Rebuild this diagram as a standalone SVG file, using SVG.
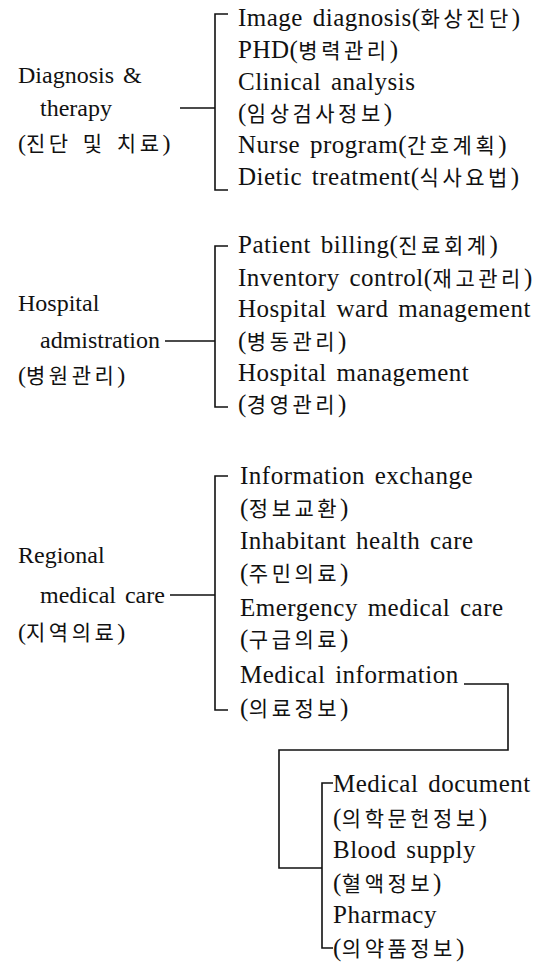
<svg xmlns="http://www.w3.org/2000/svg" width="551" height="965" viewBox="0 0 551 965">
<style>
text{font-family:"Liberation Serif","Noto Sans CJK KR",serif;font-size:25px;fill:#111;letter-spacing:0.5px;word-spacing:3px}
.l{font-size:24px;letter-spacing:0;word-spacing:3px}
.k{font-family:"Noto Sans CJK KR","Liberation Serif",sans-serif;font-size:21px;letter-spacing:3.5px}
.c{fill:none;stroke:#111;stroke-width:1.6}
</style>
<rect width="551" height="965" fill="#fff"/>
<g id="connectors">
<path class="c" d="M228,14 H215 V190 H228 M180,108 H215"/>
<path class="c" d="M228,246 H215 V407 H228 M165,341 H215"/>
<path class="c" d="M228,476 H215 V710 H228 M170,595 H215"/>
<path class="c" d="M464,684 H508 V750 H279 V868 H322"/>
<path class="c" d="M333,783 H322 V948 H333"/>
</g>
<g id="diagnosis"><text class="l" x="18" y="83">Diagnosis &amp;</text><text class="l" x="40" y="116">therapy</text><text class="l" x="18" y="151">(<tspan class="k">진단 및 치료</tspan>)</text></g>
<g id="image"><text x="238" y="26">Image diagnosis(<tspan class="k">화상진단</tspan>)</text></g>
<g id="phd"><text x="238" y="58">PHD(<tspan class="k">병력관리</tspan>)</text></g>
<g id="clinical"><text x="238" y="90">Clinical analysis</text><text x="238" y="121">(<tspan class="k">임상검사정보</tspan>)</text></g>
<g id="nurse"><text x="238" y="153">Nurse program(<tspan class="k">간호계획</tspan>)</text></g>
<g id="dietic"><text x="238" y="185">Dietic treatment(<tspan class="k">식사요법</tspan>)</text></g>
<g id="hospital"><text class="l" x="18" y="311">Hospital</text><text class="l" x="40" y="348">admistration</text><text class="l" x="18" y="383">(<tspan class="k">병원관리</tspan>)</text></g>
<g id="billing"><text x="238" y="253">Patient billing(<tspan class="k">진료회계</tspan>)</text></g>
<g id="inventory"><text x="238" y="286">Inventory control(<tspan class="k">재고관리</tspan>)</text></g>
<g id="ward"><text x="238" y="317">Hospital ward management</text><text x="238" y="349">(<tspan class="k">병동관리</tspan>)</text></g>
<g id="management"><text x="238" y="381">Hospital management</text><text x="238" y="412">(<tspan class="k">경영관리</tspan>)</text></g>
<g id="regional"><text class="l" x="18" y="563">Regional</text><text class="l" x="40" y="603">medical care</text><text class="l" x="18" y="640">(<tspan class="k">지역의료</tspan>)</text></g>
<g id="exchange"><text x="240" y="484">Information exchange</text><text x="240" y="516">(<tspan class="k">정보교환</tspan>)</text></g>
<g id="inhabitant"><text x="240" y="549">Inhabitant health care</text><text x="240" y="581">(<tspan class="k">주민의료</tspan>)</text></g>
<g id="emergency"><text x="240" y="616">Emergency medical care</text><text x="240" y="647">(<tspan class="k">구급의료</tspan>)</text></g>
<g id="medinfo"><text x="240" y="683">Medical information</text><text x="240" y="716">(<tspan class="k">의료정보</tspan>)</text></g>
<g id="document"><text x="333" y="792">Medical document</text><text x="333" y="826">(<tspan class="k">의학문헌정보</tspan>)</text></g>
<g id="blood"><text x="333" y="858">Blood supply</text><text x="333" y="891">(<tspan class="k">혈액정보</tspan>)</text></g>
<g id="pharmacy"><text x="333" y="923">Pharmacy</text><text x="333" y="956">(<tspan class="k">의약품정보</tspan>)</text></g>
</svg>
